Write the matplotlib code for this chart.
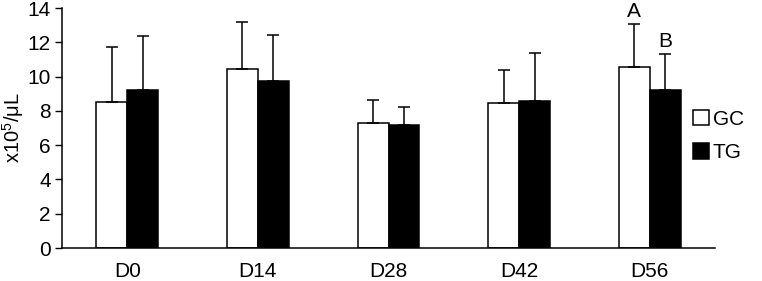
import numpy as np
import matplotlib
matplotlib.use("Agg")
from matplotlib import pyplot as plt

plt.rcParams['font.family'] = ['Liberation Sans', 'DejaVu Sans']
plt.rcParams['mathtext.fontset'] = 'custom'
plt.rcParams['mathtext.rm'] = 'Liberation Sans'

# data
days = ["D0", "D14", "D28", "D42", "D56"]
gc_mean = [8.5, 10.45, 7.3, 8.45, 10.55]
gc_err = [3.2, 2.75, 1.35, 1.95, 2.5]
tg_mean = [9.2, 9.75, 7.2, 8.55, 9.2]
tg_err = [3.15, 2.65, 1.0, 2.8, 2.1]
letters_day = "D56"
letters = ["A", "B"]

fs = 15

fig = plt.figure(figsize=(7.62, 2.81), dpi=100)
ax = fig.add_axes([62/762, 1-248/281, (715-62)/762, (248-8)/281])

x = np.arange(len(days))
w = 0.237

ax.bar(x - w/2, gc_mean, w, color="white", edgecolor="black", linewidth=1.1, label="GC")
ax.bar(x + w/2, tg_mean, w, color="black", edgecolor="black", linewidth=1.1, label="TG")

ax.errorbar(x - w/2, gc_mean, yerr=[np.zeros(len(days)), gc_err], fmt="none",
            ecolor="black", elinewidth=1.1, capsize=4, capthick=1.1)
ax.errorbar(x + w/2, tg_mean, yerr=[np.zeros(len(days)), tg_err], fmt="none",
            ecolor="black", elinewidth=1.1, capsize=4, capthick=1.1)

# significance letters
i = days.index(letters_day)
ax.text(i - w/2, gc_mean[i] + gc_err[i] + 0.2, letters[0], ha="center", va="bottom", fontsize=fs)
ax.text(i + w/2, tg_mean[i] + tg_err[i] + 0.2, letters[1], ha="center", va="bottom", fontsize=fs)

ax.set_xlim(-0.5, len(days) - 0.5)
ax.set_ylim(0, 14)
ax.set_yticks(np.arange(0, 15, 2))
ax.set_xticks(x)
ax.set_xticklabels(days)
ax.tick_params(axis="x", length=0, pad=10, labelsize=fs)
ax.tick_params(axis="y", length=5, width=1, direction="out", labelsize=fs, pad=3)
ax.set_ylabel("x10$^5$/μL", fontsize=14.5, labelpad=1)

for s in ["top", "right"]:
    ax.spines[s].set_visible(False)
ax.spines["left"].set_linewidth(1.1)
ax.spines["bottom"].set_linewidth(1.1)

fig.legend(loc="center left", bbox_to_anchor=(693/762, 1-136/281), frameon=False,
           fontsize=fs, handlelength=0.75, handleheight=0.75, handletextpad=0.2,
           labelspacing=0.7, borderpad=0, borderaxespad=0)

fig.savefig("out.png", dpi=100)
